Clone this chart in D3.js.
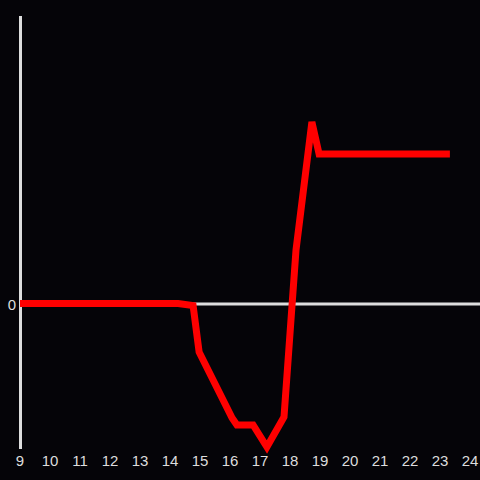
<!DOCTYPE html>
<html><head><meta charset="utf-8">
<script src="https://cdn.jsdelivr.net/npm/d3@7"></script>
<style>html,body{margin:0;padding:0;background:#050408;}</style>
</head><body>
<script>
const hours = [9, 14.27, 14.77, 14.97, 16.07, 16.23, 16.77, 17.23, 17.8, 18.2, 18.73, 18.97, 23.33];
const values = [0, 0, -0.2, -4.85, -11.45, -12.15, -12.15, -14.35, -11.35, 5.35, 18.15, 14.95, 14.95];
const xTicks = [9,10,11,12,13,14,15,16,17,18,19,20,21,22,23,24];
const yTicks = [0];

const W = 480, H = 480;
const svg = d3.select("body").append("svg").attr("width", W).attr("height", H)
  .style("background", "#050408").style("display","block");

const x = d3.scaleLinear().domain([9, 24]).range([20, 470]);
const y = d3.scaleLinear().domain([-14.45, 28.75]).range([448, 16]);

// zero line
svg.append("line").attr("x1", x(9)).attr("x2", 480).attr("y1", y(0) + 0.5).attr("y2", y(0) + 0.5)
  .attr("stroke", "#dddddd").attr("stroke-width", 3);
// y axis line
svg.append("line").attr("x1", x(9) + 0.5).attr("x2", x(9) + 0.5).attr("y1", 16).attr("y2", 449)
  .attr("stroke", "#dddddd").attr("stroke-width", 3);

// x tick labels
svg.append("g").selectAll("text").data(xTicks).join("text")
  .attr("x", d => x(d)).attr("y", 466).attr("text-anchor", "middle")
  .attr("font-family", "Liberation Sans, Arial, sans-serif").attr("font-size", 15)
  .attr("fill", "#dddddd").text(d => d);

// y tick label
svg.append("g").selectAll("text").data(yTicks).join("text")
  .attr("x", 16).attr("y", y(0) + 6).attr("text-anchor", "end")
  .attr("font-family", "Liberation Sans, Arial, sans-serif").attr("font-size", 15)
  .attr("fill", "#dddddd").text(d => d);

const line = d3.line().x((d, i) => x(hours[i])).y(d => y(d));
svg.append("path").datum(values).attr("d", line)
  .attr("fill", "none").attr("stroke", "#ff0000").attr("stroke-width", 7);
</script>
</body></html>
